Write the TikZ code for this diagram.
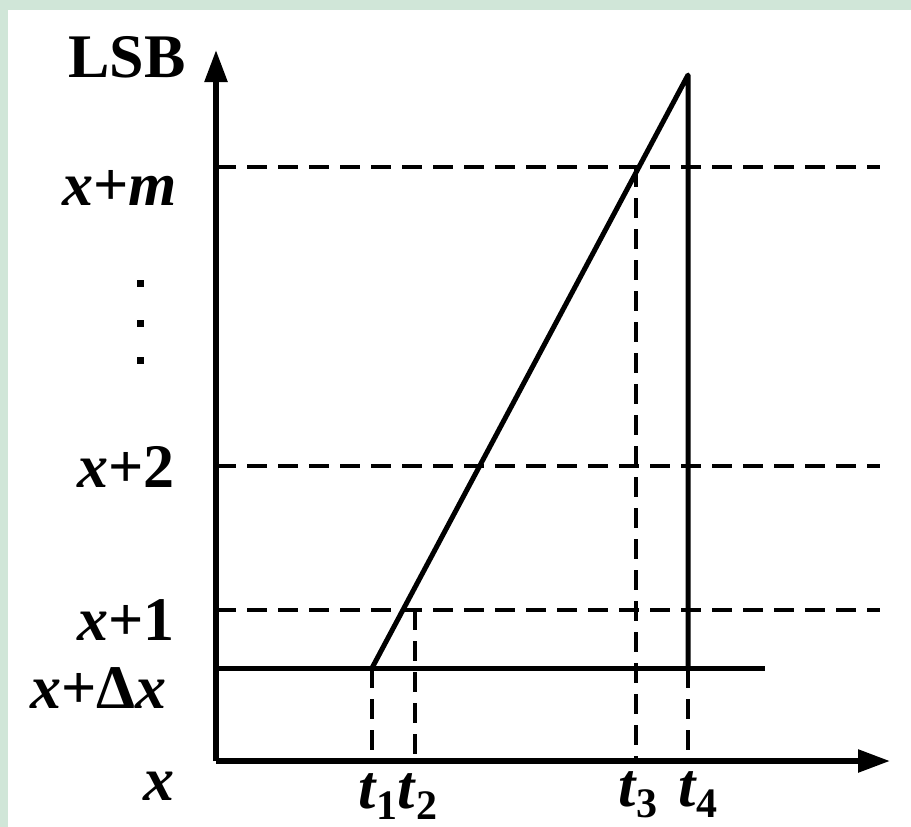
\documentclass[tikz,border=0pt]{standalone}
\usepackage{fontspec}
\setmainfont{Liberation Serif}
\usetikzlibrary{arrows.meta}
\definecolor{bggreen}{RGB}{208,230,216}
\newcommand{\vx}{\textbf{\textit{x}}}
\newcommand{\vt}[1]{\textbf{\textit{t}}\raisebox{-0.18em}{\fontsize{42}{46}\selectfont #1}}
\tikzset{
  lab/.style={inner sep=0pt, font=\fontsize{62}{70}\selectfont\bfseries},
  axisline/.style={line width=5.5pt, -{Triangle[length=32pt,width=22pt]}},
  solidline/.style={line width=5pt, line join=round},
  dashline/.style={line width=4.5pt, dash pattern=on 20pt off 11pt},
  dotmark/.style={fill=black, inner sep=0pt, minimum size=7pt, rectangle}
}
\begin{document}
\begin{tikzpicture}[x=1pt,y=-1pt]
\useasboundingbox (0,0) rectangle (911,827);
\fill[bggreen] (0,0) rectangle (911,827);
\fill[white] (8,10) rectangle (911,827);
% coordinates
\coordinate (O) at (216,761);
\coordinate (Y) at (216,50);
\coordinate (X) at (890,761);
\coordinate (A) at (372,668);
\coordinate (B) at (688,75);
\coordinate (Bf) at (688,668);
\coordinate (S) at (216,668);
\coordinate (E) at (765,668);
\coordinate (M0) at (216,167); \coordinate (M1) at (880,167);
\coordinate (T0) at (216,466); \coordinate (T1) at (880,466);
\coordinate (U0) at (216,610); \coordinate (U1) at (880,610);
\coordinate (t1a) at (372,761);
\coordinate (t2a) at (415,610); \coordinate (t2b) at (415,761);
\coordinate (t3a) at (636,167); \coordinate (t3b) at (636,761);
\coordinate (t4b) at (688,761);
% dashed levels
\draw[dashline] (M0) -- (M1);
\draw[dashline] (T0) -- (T1);
\draw[dashline] (U0) -- (U1);
% dashed drops
\draw[dashline] (A) -- (t1a);
\draw[dashline] (t2a) -- (t2b);
\draw[dashline] (t3a) -- (t3b);
\draw[dashline] (Bf) -- (t4b);
% solid
\draw[solidline] (S) -- (E);
\draw[solidline] (A) -- (B) -- (Bf);
% axes
\draw[axisline] (O) -- (Y);
\draw[axisline] (O) -- (X);
% labels
\node[lab, anchor=base west] (lsb) at (68,77) {LSB};
\node[lab, anchor=base east] (lm) at (177,205) {\vx+\textbf{\textit{m}}};
\node[lab, anchor=base east] (l2) at (175,487) {\vx+2};
\node[lab, anchor=base east] (l1) at (175,640) {\vx+1};
\node[lab, anchor=base east] (ld) at (167,708) {\vx+Δ\vx};
\node[lab, anchor=base east] (lx) at (175,800) {\vx};
\node[lab, anchor=base west] (lt12) at (358,808) {\vt{1}\vt{2}};
\node[lab, anchor=base west] (lt3) at (618,806) {\vt{3}};
\node[lab, anchor=base west] (lt4) at (678,806) {\vt{4}};
% vertical ellipsis
\node[dotmark] (d1) at (140,283) {};
\node[dotmark] (d2) at (140,323) {};
\node[dotmark] (d3) at (140,360) {};
\end{tikzpicture}
\end{document}
